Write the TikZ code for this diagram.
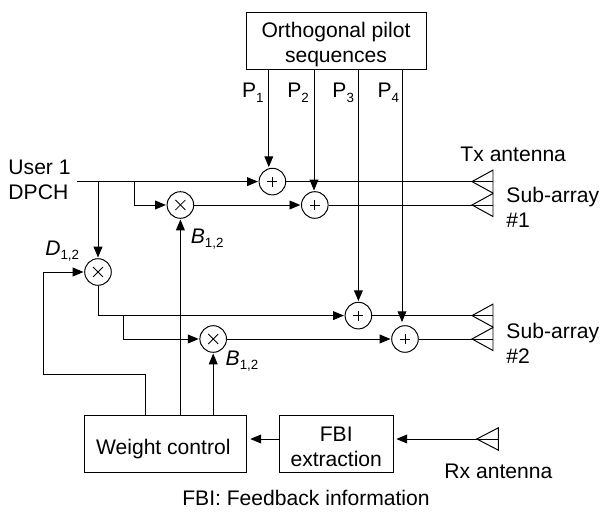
\documentclass[tikz,border=0pt]{standalone}
\usepackage{fontspec}
\setmainfont{Liberation Sans}
\usetikzlibrary{arrows.meta}
\newcommand{\lowsub}[1]{\raisebox{-3pt}{\fontsize{9.5}{9.5}\selectfont #1}}
\tikzset{every path/.style={line width=0.7pt},
  every node/.style={font=\fontsize{15}{17.7}\selectfont, inner sep=0pt},
  sig/.style={-{Triangle[length=0.27cm,width=0.22cm]}, shorten >=0.5pt},
  blockbox/.style={draw, align=center},
  adder/.style={draw, circle, minimum size=0.665cm, path picture={
    \draw[line width=0.6pt] (path picture bounding box.center) ++(-0.125,0) -- ++(0.25,0);
    \draw[line width=0.6pt] (path picture bounding box.center) ++(0,-0.125) -- ++(0,0.25);}},
  mixer/.style={draw, circle, minimum size=0.665cm, path picture={
    \draw[line width=0.6pt] (path picture bounding box.center) ++(-0.125,-0.125) -- ++(0.25,0.25);
    \draw[line width=0.6pt] (path picture bounding box.center) ++(-0.125,0.125) -- ++(0.25,-0.25);}}}

\begin{document}
\begin{tikzpicture}
   \useasboundingbox (0,0) rectangle (15,12.9);
   % blocks
   \node[blockbox, minimum width=4.5cm, minimum height=1.41cm] (pilot) at (8.4,11.88) {\rule{0pt}{16pt}Orthogonal pilot\\sequences};
   \node[blockbox, minimum width=4.06cm, minimum height=1.425cm] (wctrl) at (4.144,1.788) {\rule{0pt}{17pt}Weight control\hspace*{3.5pt}};
   \node[blockbox, minimum width=2.84cm, minimum height=1.425cm] (fbi) at (8.406,1.788) {\rule{0pt}{14pt}FBI\\extraction};
   \node[adder] (a1) at (6.81,8.36) {};
   \node[adder] (a2) at (7.87,7.775) {};
   \node[adder] (a3) at (8.96,5.01) {};
   \node[adder] (a4) at (10.125,4.425) {};
   \node[mixer] (m1) at (4.51,7.775) {};
   \node[mixer] (m2) at (5.33,4.425) {};
   \node[mixer] (d)  at (2.45,6.10) {};
   % free ends
   \coordinate (p1) at (6.72,11.175);
   \coordinate (p2) at (7.85,11.175);
   \coordinate (p3) at (8.96,11.175);
   \coordinate (p4) at (10.05,11.175);
   \coordinate (usr) at (1.925,8.36);
   \coordinate (tap1) at (3.36,8.36);
   \coordinate (tap2) at (3.09,5.01);
   \coordinate (tx1) at (12.325,8.36);
   \coordinate (tx2) at (12.325,7.775);
   \coordinate (tx3) at (12.325,5.01);
   \coordinate (tx4) at (12.325,4.425);
   \coordinate (rx) at (12.46,1.925);
   \coordinate (fb1) at (3.64,3.55);
   \coordinate (fb2) at (1.075,3.55);
   % antennas
   \draw (tx1) -- ++(0,0.2875) -- ++(-0.525,-0.2875) -- ++(0.525,-0.2875) -- cycle;
   \draw (tx2) -- ++(0,0.2875) -- ++(-0.525,-0.2875) -- ++(0.525,-0.2875) -- cycle;
   \draw (tx3) -- ++(0,0.2875) -- ++(-0.525,-0.2875) -- ++(0.525,-0.2875) -- cycle;
   \draw (tx4) -- ++(0,0.2875) -- ++(-0.525,-0.2875) -- ++(0.525,-0.2875) -- cycle;
   \draw (rx) -- ++(0,0.28) -- ++(-0.54,-0.28) -- ++(0.54,-0.28) -- cycle;
   % pilots
   \draw[sig] (p1) -- (p1 |- a1.north);
   \draw[sig] (p2) -- (p2 |- a2.north);
   \draw[sig] (p3) -- (p3 |- a3.north);
   \draw[sig] (p4) -- ([yshift=0.06cm]p4 |- a4.north);
   % upper branch
   \draw[sig] (usr) -- (a1);
   \draw[sig] (tap1) |- (m1);
   \draw[sig] (m1) -- (a2);
   \draw (a1) -- (tx1);
   \draw (a2) -- (tx2);
   % lower branch
   \draw[sig] (d |- usr) -- (d);
   \draw[sig] (d) |- (a3);
   \draw[sig] (tap2) |- (m2);
   \draw[sig] (m2) -- (a4);
   \draw (a3) -- (tx3);
   \draw (a4) -- (tx4);
   % feedback
   \draw[sig] (fb1 |- wctrl.north) -- (fb1) -- (fb2) |- (d);
   \draw[sig] (m1 |- wctrl.north) -- (m1);
   \draw[sig] (m2 |- wctrl.north) -- (m2);
   \draw[sig, shorten >=2pt] (rx) -- (fbi.east |- rx);
   \draw[sig, shorten >=2pt] (fbi.west |- rx) -- (wctrl.east |- rx);
   % labels
   \node[anchor=west, align=left] (user) at (0.2,8.4) {User 1\\DPCH};
   \node (lp1) at (6.32,10.58) {P\lowsub{1}};
   \node (lp2) at (7.45,10.58) {P\lowsub{2}};
   \node (lp3) at (8.58,10.58) {P\lowsub{3}};
   \node (lp4) at (9.71,10.58) {P\lowsub{4}};
   \node[anchor=west] (ltx) at (11.5,9.05) {Tx antenna};
   \node[anchor=west, align=left] (sub1) at (12.65,7.71) {Sub-array\\\#1};
   \node[anchor=west, align=left] (sub2) at (12.65,4.31) {Sub-array\\\#2};
   \node[anchor=west] (lrx) at (11.1,1.12) {Rx antenna};
   \node[anchor=west] (ld) at (1.12,6.63) {\textit{D}\lowsub{1,2}};
   \node[anchor=west] (lb1) at (4.76,6.93) {\textit{B}\lowsub{1,2}};
   \node[anchor=west] (lb2) at (5.63,3.87) {\textit{B}\lowsub{1,2}};
   \node (note) at (7.65,0.45) {FBI: Feedback information};
\end{tikzpicture}
\end{document}
